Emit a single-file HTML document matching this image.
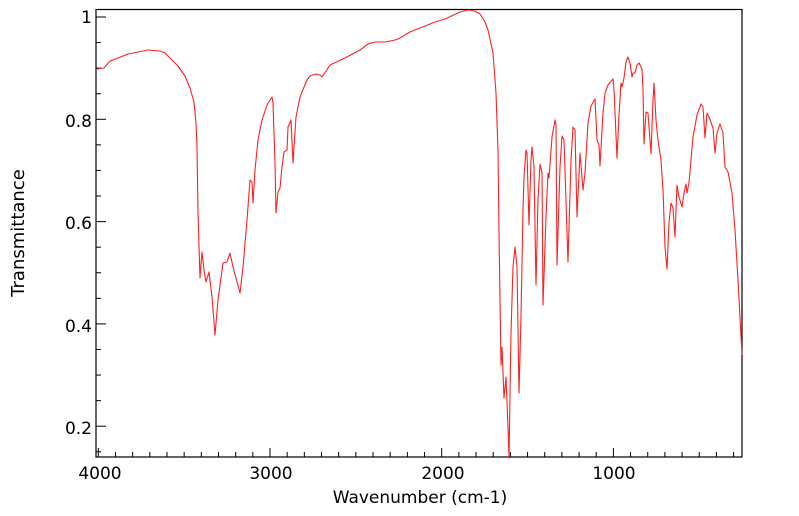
<!DOCTYPE html>
<html><head><meta charset="utf-8"><style>
html,body{margin:0;padding:0;background:#fff;}
svg{display:block;}
text{font-family:"DejaVu Sans","Liberation Sans",sans-serif;fill:#000;}
</style></head><body>
<svg width="799" height="516" viewBox="0 0 799 516" xmlns="http://www.w3.org/2000/svg">
<rect x="96" y="9.5" width="646" height="447.5" fill="none" stroke="#000" stroke-width="1.2"/>
<g stroke="#000" stroke-width="1" id="ticks"></g>
<g font-size="17" text-anchor="end">
<text x="92" y="23">1</text>
<text x="92" y="127">0.8</text>
<text x="92" y="229">0.6</text>
<text x="92" y="332">0.4</text>
<text x="92" y="434">0.2</text>
</g>
<g font-size="17" text-anchor="middle">
<text x="100" y="479">4000</text>
<text x="271" y="479">3000</text>
<text x="443" y="479">2000</text>
<text x="614" y="479">1000</text>
<text x="420" y="503">Wavenumber (cm-1)</text>
</g>
<text font-size="18" text-anchor="middle" transform="translate(24,233) rotate(-90)">Transmittance</text>
<polyline fill="none" stroke="#ff2020" stroke-width="1.1" stroke-linejoin="round" points="
97,69 104,68 110,61 118,58 128,54 138,52 148,50 160,51 165,53 172,60 178,66 185,76 190,88 194,102 196,123 197,147 198,213 200,278 202,252 204,270 206,282 209,272 212,297 215,335 218,300 223,263 227,262 230,253 233,267 240,293 243,267 247,220 250,180 252,182 253,203 255,170 258,140 262,120 267,105 272,97 273,103 275,163 276,213 278,192 280,188 282,167 284,152 287,150 288,127 291,120 293,163 296,117 300,97 307,80 310,76 316,74 320,75 322,77 330,65 345,58 360,50 368,44 375,42 385,42 395,40 400,38 410,32 420,28 435,22 445,19 460,12 468,10 475,11 480,14 485,22 488,30 493,53 496,93 498,150 499,233 501,365 502,347 504,398 506,377 508,427 509,458 511,333 513,267 515,247 517,267 519,393 521,317 523,210 524,177 526,150 527,153 529,225 531,160 532,147 534,167 536,285 538,200 540,164 542,173 543,305 546,217 548,173 549,178 552,137 555,120 556,125 557,265 560,167 562,136 564,140 568,262 571,160 573,127 575,130 577,217 580,153 583,190 585,173 588,123 591,106 595,99 597,140 599,145 600,166 603,113 605,93 608,85 613,79 614,90 617,158 619,115 621,83 622,87 624,78 626,62 628,57 630,63 632,77 633,73 635,73 637,65 639,63 642,69 643,90 644,144 646,112 648,113 651,154 653,100 654,83 656,120 658,140 661,160 663,190 665,247 667,269 669,222 671,203 673,208 675,237 677,185 679,197 682,207 684,193 686,184 687,193 689,183 691,160 693,137 697,115 701,104 703,107 705,138 707,113 709,117 713,128 715,153 717,133 720,124 723,133 725,167 728,172 732,193 735,230 738,280 742,355"/>
</svg>
<script>
var g=document.getElementById('ticks'),s='';
for(var i=0;i<=37;i++){var x=98.3+i*17.17;var L=(i%10==0)?9:5;s+='<line x1="'+x+'" y1="457" x2="'+x+'" y2="'+(457-L)+'"/>';}
for(var j=0;j<=17;j++){var v=0.15+j*0.05;var y=17+(1-v)*511.5;var L=(Math.round(v*100)%20==0)?10:5;s+='<line x1="96" y1="'+y+'" x2="'+(96+L)+'" y2="'+y+'"/>';}
g.innerHTML=s;
</script>
</body></html>
